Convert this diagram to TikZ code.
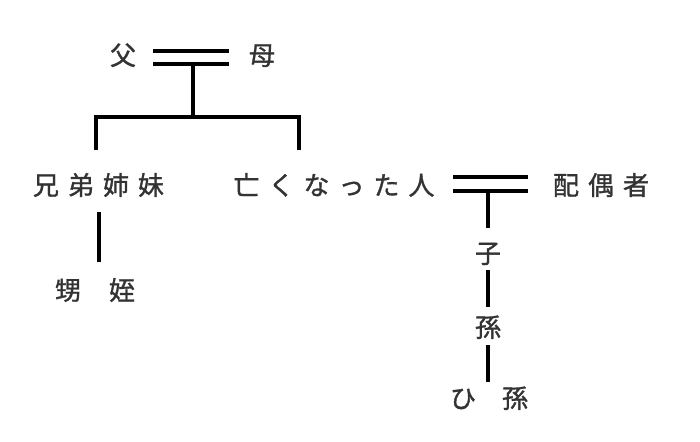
\documentclass[tikz,border=0pt]{standalone}
\usepackage{fontspec}
\newfontfamily\jp[FakeBold=1.2]{Noto Sans CJK JP}
\definecolor{txt}{HTML}{333333}
\newcommand{\gp}{\hspace{9pt}}
\begin{document}
\begin{tikzpicture}[x=1pt,y=-1pt,
  person/.style={inner sep=0pt, text height=22.9pt, text depth=3.1pt, font=\jp\fontsize{26pt}{26pt}\selectfont, text=txt},
  link/.style={line width=4pt, black, line cap=butt, line join=miter}]
\useasboundingbox (0,0) rectangle (700,441);
% nodes
\node[person] (fa) at (123,55) {父};
\node[person] (mo) at (262,55) {母};
\node[person] (sib) at (98.5,185) {兄\gp 弟\gp 姉\gp 妹};
\node[person] (dec) at (334,185) {亡\gp く\gp な\gp っ\gp た\gp 人};
\node[person] (sp) at (601,185) {配\gp 偶\gp 者};
\node[person] (ne) at (95,290) {甥\hspace{28pt}姪};
\node[person] (ch) at (488,253) {子};
\node[person] (gc) at (488,327) {孫};
\node[person] (ggc) at (489,398) {ひ\hspace{26pt}孫};
% junction coordinates
\coordinate (m1a) at (153,51); \coordinate (m1b) at (229,51);
\coordinate (m1c) at (153,64); \coordinate (m1d) at (229,64);
\coordinate (m1) at (193,64);
\coordinate (bar) at (193,117);
\coordinate (bl) at (96,150); \coordinate (br) at (299,150);
\coordinate (s1) at (99,212); \coordinate (s2) at (99,262);
\coordinate (m2a) at (453,177); \coordinate (m2b) at (528,177);
\coordinate (m2c) at (453,191); \coordinate (m2d) at (528,191);
\coordinate (m2) at (488,191);
\coordinate (c1) at (488,228);
\coordinate (c2) at (488,270); \coordinate (c3) at (488,307);
\coordinate (c4) at (488,345); \coordinate (c5) at (488,382);
% connectors
\draw[link] (m1a) -- (m1b);
\draw[link] (m1c) -- (m1d);
\draw[link] (m1) -- (bar);
\draw[link] (bl) |- (bar) -| (br);
\draw[link] (s1) -- (s2);
\draw[link] (m2a) -- (m2b);
\draw[link] (m2c) -- (m2d);
\draw[link] (m2) -- (c1);
\draw[link] (c2) -- (c3);
\draw[link] (c4) -- (c5);
\end{tikzpicture}
\end{document}
